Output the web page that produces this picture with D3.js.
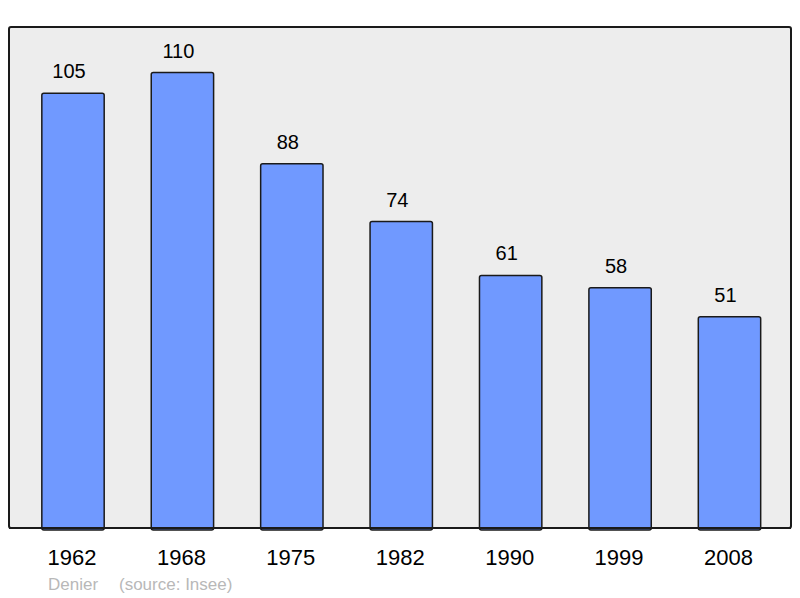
<!DOCTYPE html>
<html>
<head>
<meta charset="utf-8">
<script src="https://cdn.jsdelivr.net/npm/d3@7"></script>
<style>
  body { margin: 0; background: #fff; }
  text { font-family: "Liberation Sans", Arial, sans-serif; }
</style>
</head>
<body>
<div id="chart"></div>
<script>
var years = ['1962', '1968', '1975', '1982', '1990', '1999', '2008'];
var population = [105, 110, 88, 74, 61, 58, 51];

var width = 800;
var height = 598;
var panel = { left: 9, top: 27, right: 791, bottom: 528 };

var svg = d3.select('#chart').append('svg')
	.attr('width', width)
	.attr('height', height);

// grey panel
svg.append('rect')
	.attr('x', panel.left)
	.attr('y', panel.top)
	.attr('width', panel.right - panel.left)
	.attr('height', panel.bottom - panel.top)
	.attr('rx', 2)
	.attr('fill', '#ededed')
	.attr('stroke', '#1a1a1a')
	.attr('stroke-width', 2);

var xScale = d3.scaleBand()
	.domain(years)
	.range([18.3, 784.2])
	.paddingInner(0.43)
	.paddingOuter(0.215);

var yScale = d3.scaleLinear()
	.domain([0, 121])
	.range([panel.bottom, panel.top]);

var data = years.map(function (y, i) { return { year: y, value: population[i] }; });

svg.selectAll('.bar')
	.data(data)
	.enter()
	.append('rect')
	.attr('class', 'bar')
	.attr('x', function (d) { return xScale(d.year); })
	.attr('y', function (d) { return yScale(d.value); })
	.attr('width', xScale.bandwidth())
	.attr('height', function (d) { return yScale(0) - yScale(d.value) + 2; })
	.attr('rx', 2)
	.attr('fill', '#7099ff')
	.attr('stroke', '#1a1a1a')
	.attr('stroke-width', 1.5);

// redraw bottom border over the bars
svg.append('line')
	.attr('x1', panel.left)
	.attr('x2', panel.right)
	.attr('y1', panel.bottom)
	.attr('y2', panel.bottom)
	.attr('stroke', '#1a1a1a')
	.attr('stroke-width', 2);

svg.selectAll('.value')
	.data(data)
	.enter()
	.append('text')
	.attr('class', 'value')
	.attr('x', function (d) { return xScale(d.year) + xScale.bandwidth() / 2 - 4; })
	.attr('y', function (d) { return yScale(d.value) - 15; })
	.attr('text-anchor', 'middle')
	.attr('font-size', 20)
	.attr('fill', '#000')
	.text(function (d) { return d.value; });

var xAxis = d3.axisBottom(xScale).tickSize(0).tickPadding(0);
var ax = svg.append('g')
	.attr('transform', 'translate(0,' + panel.bottom + ')')
	.call(xAxis);
ax.select('.domain').remove();
ax.selectAll('text')
	.attr('dy', null)
	.attr('x', -1)
	.attr('y', 37)
	.attr('font-size', 22)
	.attr('font-family', '"Liberation Sans", Arial, sans-serif')
	.attr('fill', '#000');

svg.append('text')
	.attr('x', 48)
	.attr('y', 590)
	.attr('font-size', 17)
	.attr('fill', '#b8b8b8')
	.text('Denier');
svg.append('text')
	.attr('x', 119)
	.attr('y', 590)
	.attr('font-size', 17)
	.attr('fill', '#b8b8b8')
	.text('(source: Insee)');
</script>
</body>
</html>
